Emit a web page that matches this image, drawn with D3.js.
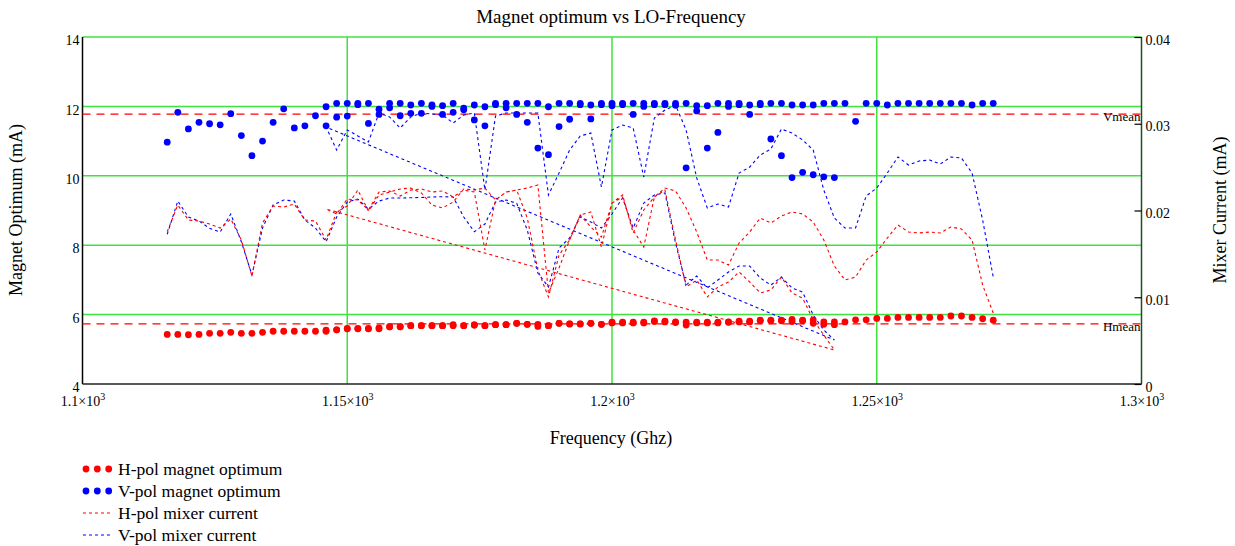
<!DOCTYPE html>
<html>
<head>
<meta charset="utf-8">
<script src="https://cdn.jsdelivr.net/npm/d3@7"></script>
<style>
  body { margin: 0; background: #fff; }
  svg { display: block; font-family: "Liberation Serif", "DejaVu Serif", serif; }
</style>
</head>
<body>
<div id="chart"></div>
<script>
const RED = "#ff0000";
const BLUE = "#0000ff";
const GRID = "#3fe23f";

// two measurement runs, 2 GHz steps
const freqRun1 = [1116,1118,1120,1122,1124,1126,1128,1130,1132,1134,1136,1138,1140,1142,1144,1146,
  1148,1150,1152,1154,1156,1158,1160,1162,1164,1166,1168,1170,1172,1174,1176,1178,
  1180,1182,1184,1186,1188,1190,1192,1194,1196,1198,1200,1202,1204,1206,1208,1210,
  1212,1214,1216,1218,1220,1222,1224,1226,1228,1230,1232,1234,1236,1238,1240,1242];
const freqRun2 = [1146,1148,1150,1152,1154,1156,1158,1160,1162,1164,1166,1168,1170,1172,1174,1176,
  1178,1180,1182,1184,1186,1188,1190,1192,1194,1196,1198,1200,1202,1204,1206,1208,
  1210,1212,1214,1216,1218,1220,1222,1224,1226,1228,1230,1232,1234,1236,1238,1240,
  1242,1244,1246,1248,1250,1252,1254,1256,1258,1260,1262,1264,1266,1268,1270,1272];

const hMagnet1 = [5.43,5.43,5.42,5.43,5.46,5.46,5.49,5.46,5.46,5.49,5.52,5.52,5.52,5.52,5.52,5.52,
  5.56,5.59,5.59,5.59,5.62,5.65,5.65,5.68,5.68,5.68,5.68,5.68,5.68,5.70,5.68,5.71,
  5.71,5.75,5.72,5.66,5.68,5.75,5.73,5.73,5.75,5.72,5.76,5.76,5.76,5.76,5.80,5.79,
  5.77,5.70,5.76,5.76,5.76,5.78,5.79,5.79,5.82,5.82,5.82,5.80,5.82,5.75,5.72,5.71];
const hMagnet2 = [5.55,5.56,5.60,5.60,5.60,5.59,5.65,5.65,5.68,5.68,5.68,5.68,5.71,5.68,5.70,5.68,
  5.71,5.71,5.75,5.72,5.72,5.68,5.75,5.73,5.73,5.75,5.72,5.78,5.78,5.78,5.78,5.82,
  5.81,5.79,5.78,5.78,5.78,5.78,5.79,5.81,5.81,5.84,5.84,5.84,5.86,5.84,5.85,5.79,
  5.79,5.79,5.85,5.85,5.89,5.89,5.92,5.92,5.92,5.92,5.92,5.96,5.96,5.92,5.88,5.84];

const vMagnet1 = [10.97,11.83,11.35,11.54,11.50,11.47,11.79,11.16,10.58,11.00,11.54,11.93,11.38,11.44,11.73,11.44,
  11.69,11.72,12.05,11.51,11.77,11.96,11.73,11.80,11.80,12.00,11.77,11.83,11.90,11.61,11.44,12.05,
  11.96,11.77,11.54,10.80,10.61,11.42,11.63,12.05,11.64,12.05,12.02,12.05,11.77,12.00,12.05,12.05,
  12.03,10.23,11.87,10.80,11.25,12.00,12.05,11.77,12.05,11.06,10.58,9.95,10.10,10.03,9.97,9.95];
const vMagnet2 = [11.99,12.09,12.09,12.09,12.09,11.92,12.09,12.09,12.04,12.09,12.04,12.02,12.09,11.95,12.04,11.99,
  12.09,12.09,12.09,12.09,12.09,11.99,12.09,12.09,12.09,12.04,12.09,12.09,12.09,12.09,12.09,12.09,
  12.09,12.09,12.09,12.02,12.02,12.09,12.09,12.09,12.04,12.09,12.09,12.09,12.04,12.04,12.04,12.09,
  12.09,12.09,11.57,12.09,12.09,12.04,12.09,12.09,12.09,12.09,12.09,12.09,12.09,12.04,12.09,12.09];

const hMixer1 = [0.01756,0.02063,0.0189,0.01879,0.01844,0.01798,0.01902,0.0166,0.01245,0.01856,0.02052,0.0204,0.02075,0.0189,0.01879,0.0166,
  0.01983,0.02052,0.02236,0.01994,0.02179,0.02213,0.02248,0.02259,0.02202,0.02063,0.02029,0.02098,0.02248,0.02236,0.02259,0.02121,
  0.02213,0.02236,0.01913,0.01314,0.01003,0.01487,0.0166,0.01948,0.0181,0.01694,0.02086,0.02179,0.01741,0.02006,0.02156,0.02236,
  0.0166,0.01118,0.01199,0.01003,0.01118,0.01176,0.01291,0.01176,0.01049,0.01084,0.01233,0.01049,0.00991,0.00738,0.00565,0.00392];
const hMixer2 = [0.02017,0.0196,0.02132,0.02121,0.02006,0.02213,0.02225,0.02167,0.02236,0.02248,0.02213,0.02225,0.02156,0.02236,0.02213,0.01545,
  0.02121,0.02213,0.02236,0.02259,0.02294,0.01049,0.01337,0.0166,0.01948,0.01983,0.01579,0.02086,0.02156,0.01775,0.01579,0.02156,
  0.02259,0.02225,0.02029,0.01752,0.01429,0.01429,0.01372,0.01625,0.01752,0.01913,0.01856,0.01937,0.01983,0.0196,0.01867,0.0166,
  0.0136,0.01199,0.01233,0.01429,0.01522,0.01683,0.01833,0.01752,0.01741,0.01752,0.01741,0.0181,0.01787,0.0166,0.01141,0.00818];

const vMixer1 = [0.01726,0.02109,0.01925,0.01879,0.01795,0.01752,0.0196,0.0164,0.01256,0.01798,0.02063,0.02121,0.02109,0.0189,0.01798,0.0164,
  0.01925,0.02098,0.02132,0.02017,0.02109,0.02144,0.02144,0.02147,0.0215,0.02156,0.02159,0.02156,0.01925,0.01755,0.01844,0.02098,
  0.02121,0.02083,0.01775,0.0128,0.01118,0.01568,0.01683,0.01928,0.01867,0.01798,0.0196,0.02144,0.01798,0.02086,0.02179,0.02202,
  0.01625,0.01141,0.01245,0.01107,0.01199,0.01291,0.0136,0.0136,0.01222,0.01141,0.01233,0.01107,0.0106,0.00795,0.00622,0.00507];
const vMixer2 = [0.02962,0.02697,0.02928,0.02859,0.0279,0.03124,0.03078,0.02951,0.03078,0.03124,0.03112,0.03101,0.03009,0.03101,0.03124,0.02236,
  0.03089,0.03124,0.03124,0.03124,0.03124,0.02179,0.02432,0.02697,0.02859,0.02893,0.02271,0.02928,0.02985,0.02951,0.02386,0.03066,
  0.03158,0.03216,0.02928,0.02375,0.02029,0.02075,0.0204,0.02432,0.02501,0.0264,0.02709,0.02939,0.02893,0.02813,0.02697,0.02236,
  0.01913,0.01798,0.01798,0.02167,0.02259,0.02432,0.02617,0.02524,0.02571,0.02582,0.02536,0.02617,0.02605,0.02432,0.0189,0.01233];

const hMean = 5.73;
const vMean = 11.78;

const xTicks = [1100, 1150, 1200, 1250, 1300];
const xTickLabels = ["1.1", "1.15", "1.2", "1.25", "1.3"];
const yLeftTicks = [4, 6, 8, 10, 12, 14];
const yRightTicks = [0, 0.01, 0.02, 0.03, 0.04];

const legendItems = [
  { label: "H-pol magnet optimum", color: RED, kind: "dots" },
  { label: "V-pol magnet optimum", color: BLUE, kind: "dots" },
  { label: "H-pol mixer current", color: RED, kind: "dash" },
  { label: "V-pol mixer current", color: BLUE, kind: "dash" }
];

const width = 1235, height = 546;
const plotLeft = 82.5, plotRight = 1141.5, plotTop = 37, plotBottom = 384;

let svg = d3.select("#chart").append("svg")
  .attr("width", width).attr("height", height);

let x = d3.scaleLinear().domain([1100, 1300]).range([plotLeft, plotRight]);
let yL = d3.scaleLinear().domain([4, 14]).range([plotBottom, plotTop]);
let yR = d3.scaleLinear().domain([0, 0.04]).range([plotBottom, plotTop]);

// grid
svg.append("g").selectAll("line").data([6, 8, 10, 12, 14]).join("line")
  .attr("x1", plotLeft).attr("x2", plotRight)
  .attr("y1", d => yL(d)).attr("y2", d => yL(d))
  .attr("stroke", GRID).attr("stroke-width", 1.5);
svg.append("g").selectAll("line").data([1150, 1200, 1250]).join("line")
  .attr("x1", d => x(d)).attr("x2", d => x(d))
  .attr("y1", plotTop).attr("y2", plotBottom)
  .attr("stroke", GRID).attr("stroke-width", 1.5);

// frame
svg.append("line").attr("x1", plotLeft).attr("x2", plotLeft).attr("y1", plotTop).attr("y2", plotBottom)
  .attr("stroke", "#000").attr("stroke-width", 1.5);
svg.append("line").attr("x1", plotLeft).attr("x2", plotRight).attr("y1", plotBottom).attr("y2", plotBottom)
  .attr("stroke", "#222").attr("stroke-width", 1.5);
svg.append("line").attr("x1", plotRight).attr("x2", plotRight).attr("y1", plotTop).attr("y2", plotBottom)
  .attr("stroke", "#1f4f1f").attr("stroke-width", 1.5);

// means
[[hMean, "Hmean"], [vMean, "Vmean"]].forEach(([m, name]) => {
  svg.append("line")
    .attr("x1", plotLeft).attr("x2", plotRight)
    .attr("y1", yL(m)).attr("y2", yL(m))
    .attr("stroke", RED).attr("stroke-width", 1.2)
    .attr("stroke-dasharray", "8,6");
  svg.append("text")
    .attr("x", plotRight - 1).attr("y", yL(m) + 7)
    .attr("text-anchor", "end")
    .attr("font-size", "13px")
    .text(name);
});

// mixer current, run 1 then run 2 in one trace
function joinRuns(f1, v1, f2, v2) {
  return f1.map((f, i) => [f, v1[i]]).concat(f2.map((f, i) => [f, v2[i]]));
}
let mixerLine = d3.line().x(d => x(d[0])).y(d => yR(d[1]));

svg.append("path")
  .datum(joinRuns(freqRun1, vMixer1, freqRun2, vMixer2))
  .attr("d", mixerLine)
  .attr("fill", "none").attr("stroke", BLUE).attr("stroke-width", 1.1)
  .attr("stroke-dasharray", "3,3");
svg.append("path")
  .datum(joinRuns(freqRun1, hMixer1, freqRun2, hMixer2))
  .attr("d", mixerLine)
  .attr("fill", "none").attr("stroke", RED).attr("stroke-width", 1.1)
  .attr("stroke-dasharray", "3,3");

// magnet optimum dots
function drawDots(points, color) {
  svg.append("g").selectAll("circle").data(points).join("circle")
    .attr("cx", d => x(d[0])).attr("cy", d => yL(d[1]))
    .attr("r", 3.4).attr("fill", color);
}
drawDots(joinRuns(freqRun1, vMagnet1, freqRun2, vMagnet2), BLUE);
drawDots(joinRuns(freqRun1, hMagnet1, freqRun2, hMagnet2), RED);

// axes
let xAxis = svg.append("g")
  .attr("transform", `translate(0,${plotBottom})`)
  .call(d3.axisBottom(x).tickValues(xTicks).tickSize(0).tickPadding(12));
xAxis.select(".domain").remove();
xAxis.selectAll("text").each(function (d, i) {
  let t = d3.select(this).text("").attr("font-size", "14px").attr("fill", "#000");
  t.append("tspan").text(xTickLabels[i] + "\u00d710");
  t.append("tspan").attr("font-size", "10px").attr("dy", "-0.6em").text("3");
});

let yAxisL = svg.append("g")
  .attr("transform", `translate(${plotLeft},0)`)
  .call(d3.axisLeft(yL).tickValues(yLeftTicks).tickSize(0).tickPadding(3));
yAxisL.select(".domain").remove();
yAxisL.selectAll("text").attr("font-size", "14px").attr("fill", "#000")
  .attr("dy", "0.55em");

let yAxisR = svg.append("g")
  .attr("transform", `translate(${plotRight},0)`)
  .call(d3.axisRight(yR).tickValues(yRightTicks).tickSizeInner(-7).tickSizeOuter(0).tickPadding(4)
    .tickFormat(d => d === 0 ? "0" : d3.format(".2f")(d)));
yAxisR.select(".domain").remove();
yAxisR.selectAll("line").attr("stroke", "#000").attr("stroke-width", 1.2);
yAxisR.selectAll("text").attr("font-size", "14px").attr("fill", "#000")
  .attr("dy", "0.5em");

// font family on axis groups
svg.selectAll(".tick text").attr("font-family", "Liberation Serif, serif");
xAxis.attr("font-family", "Liberation Serif, serif");
yAxisL.attr("font-family", "Liberation Serif, serif");
yAxisR.attr("font-family", "Liberation Serif, serif");

// titles
svg.append("text").attr("x", 611).attr("y", 23).attr("text-anchor", "middle")
  .attr("font-size", "19px").text("Magnet optimum vs LO-Frequency");
svg.append("text").attr("x", 611).attr("y", 444).attr("text-anchor", "middle")
  .attr("font-size", "18px").text("Frequency (Ghz)");
svg.append("text").attr("transform", "translate(22,210) rotate(-90)").attr("text-anchor", "middle")
  .attr("font-size", "18px").text("Magnet Optimum (mA)");
svg.append("text").attr("transform", "translate(1226,210) rotate(-90)").attr("text-anchor", "middle")
  .attr("font-size", "18px").text("Mixer Current (mA)");

// legend
const legend = svg.append("g");
legendItems.forEach((item, i) => {
  let cy = 469 + i * 22;
  if (item.kind === "dots") {
    legend.append("g").selectAll("circle").data([86, 97.3, 108.7]).join("circle")
      .attr("cx", d => d).attr("cy", cy).attr("r", 3.4).attr("fill", item.color);
  } else {
    legend.append("line").attr("x1", 83).attr("x2", 113).attr("y1", cy).attr("y2", cy)
      .attr("stroke", item.color).attr("stroke-width", 1).attr("stroke-dasharray", "3,3");
  }
  legend.append("text").attr("x", 118).attr("y", cy + 6)
    .attr("font-size", "17.5px").text(item.label);
});
</script>
</body>
</html>
